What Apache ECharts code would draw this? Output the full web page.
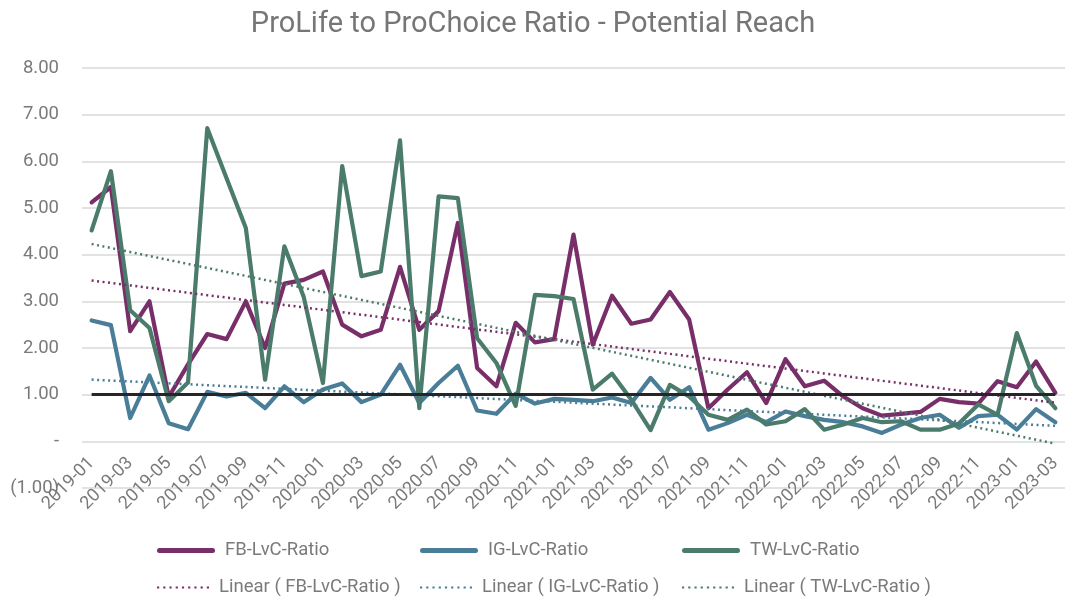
<!DOCTYPE html>
<html>
<head>
<meta charset="utf-8">
<script src="https://cdn.jsdelivr.net/npm/echarts@6/dist/echarts.min.js"></script>
<style>
  html, body { margin: 0; padding: 0; background: #ffffff; }
  #chart { width: 1066px; height: 598px; }
</style>
</head>
<body>
<div id="chart"></div>
<script>
// ---- data ----
const categories = [
  '2019-01','2019-02','2019-03','2019-04','2019-05','2019-06','2019-07','2019-08','2019-09','2019-10','2019-11','2019-12',
  '2020-01','2020-02','2020-03','2020-04','2020-05','2020-06','2020-07','2020-08','2020-09','2020-10','2020-11','2020-12',
  '2021-01','2021-02','2021-03','2021-04','2021-05','2021-06','2021-07','2021-08','2021-09','2021-10','2021-11','2021-12',
  '2022-01','2022-02','2022-03','2022-04','2022-05','2022-06','2022-07','2022-08','2022-09','2022-10','2022-11','2022-12',
  '2023-01','2023-02','2023-03'
];
const fbRatio = [
  5.12, 5.45, 2.36, 3.00, 0.95, 1.65, 2.30, 2.19, 3.00, 2.00, 3.38, 3.46,
  3.64, 2.50, 2.25, 2.39, 3.74, 2.39, 2.79, 4.68, 1.57, 1.18, 2.54, 2.12,
  2.19, 4.43, 2.07, 3.12, 2.52, 2.61, 3.20, 2.61, 0.71, 1.11, 1.48, 0.82,
  1.76, 1.18, 1.30, 0.96, 0.71, 0.55, 0.59, 0.63, 0.91, 0.84, 0.81, 1.29,
  1.16, 1.71, 1.04
];
const igRatio = [
  2.59, 2.49, 0.50, 1.41, 0.39, 0.26, 1.06, 0.96, 1.04, 0.71, 1.18, 0.84,
  1.11, 1.24, 0.84, 1.00, 1.64, 0.82, 1.25, 1.62, 0.66, 0.59, 1.02, 0.81,
  0.91, 0.89, 0.86, 0.94, 0.82, 1.36, 0.89, 1.16, 0.25, 0.39, 0.57, 0.41,
  0.64, 0.54, 0.46, 0.41, 0.32, 0.18, 0.36, 0.50, 0.57, 0.29, 0.54, 0.57,
  0.25, 0.69, 0.41
];
const twRatio = [
  4.52, 5.79, 2.81, 2.43, 0.86, 1.26, 6.71, 5.64, 4.57, 1.32, 4.18, 3.10,
  1.25, 5.90, 3.54, 3.64, 6.45, 0.71, 5.25, 5.21, 2.21, 1.68, 0.76, 3.14,
  3.11, 3.05, 1.11, 1.45, 0.89, 0.24, 1.21, 0.96, 0.57, 0.46, 0.68, 0.36,
  0.43, 0.69, 0.25, 0.36, 0.50, 0.41, 0.43, 0.25, 0.25, 0.38, 0.79, 0.57,
  2.32, 1.19, 0.71
];
const seriesNames = ['FB-LvC-Ratio', 'IG-LvC-Ratio', 'TW-LvC-Ratio'];
const referenceValue = 1;
const yTicks = { min: -1, max: 8, interval: 1 };

// ---- linear trend (least squares, like a spreadsheet trendline) ----
function linearTrend(values) {
  const n = values.length;
  let sx = 0, sy = 0, sxx = 0, sxy = 0;
  values.forEach((v, i) => { sx += i; sy += v; sxx += i * i; sxy += i * v; });
  const b = (n * sxy - sx * sy) / (n * sxx - sx * sx);
  const a = (sy - b * sx) / n;
  return values.map((v, i) => +(a + b * i).toFixed(4));
}

const colors = ['#782f69', '#4a7d97', '#4a7b6b'];
const valuesList = [fbRatio, igRatio, twRatio];
const FONT = 'Roboto, "Noto Sans", sans-serif';
const TEXT_COLOR = '#7a7a7a';

const GRID_TOP = 68, GRID_BOTTOM = 110, CHART_H = 598;
const unitPx = (CHART_H - GRID_TOP - GRID_BOTTOM) / (yTicks.max - yTicks.min);

const series = [];
valuesList.forEach((vals, k) => {
  series.push({
    name: seriesNames[k],
    type: 'line',
    data: vals,
    symbol: 'none',
    z: 2 + k * 0.1,
    lineStyle: { color: colors[k], width: 4.2, join: 'round', cap: 'round' },
    itemStyle: { color: colors[k] },
    emphasis: { disabled: true },
    markLine: k === 2 ? {
      silent: true,
      symbol: 'none',
      label: { show: false },
      lineStyle: { color: '#262626', width: 3, type: 'solid' },
      data: [[
        { coord: [categories[0], referenceValue] },
        { coord: [categories[categories.length - 1], referenceValue] }
      ]]
    } : undefined
  });
});
valuesList.forEach((vals, k) => {
  series.push({
    name: 'Linear ( ' + seriesNames[k] + ' )',
    type: 'line',
    data: linearTrend(vals),
    symbol: 'none',
    z: 3,
    lineStyle: { color: colors[k], width: 2.5, type: [2, 3.5] },
    itemStyle: { color: colors[k] },
    emphasis: { disabled: true }
  });
});

function fmtY(v) {
  if (v === 0) return '-';
  if (v < 0) return '(' + Math.abs(v).toFixed(2) + ')';
  return v.toFixed(2);
}

// legend icons
const solidIcon = 'path://M2.5,0 H55.5 A2.5,2.5 0 0 1 55.5,5 H2.5 A2.5,2.5 0 0 1 2.5,0 Z';
let dotPath = 'path://';
for (let j = 0; j < 9; j++) {
  const x0 = (j * 6.25).toFixed(2);
  dotPath += 'M' + x0 + ',0 h2.2 v2.2 h-2.2 z ';
}

const colX = [157, 420, 682];
const legends = [];
seriesNames.forEach((nm, k) => {
  legends.push({
    data: [{ name: nm, icon: solidIcon }], left: colX[k], top: 541, itemWidth: 58, itemHeight: 5,
    symbolKeepAspect: false,
    padding: [0, 0, 0, 0],
    textStyle: { fontFamily: FONT, fontSize: 18.5, color: TEXT_COLOR, padding: [0, 0, 0, 5] },
    selectedMode: false
  });
  legends.push({
    data: [{ name: 'Linear ( ' + nm + ' )', icon: dotPath }], left: colX[k], top: 578, itemWidth: 52, itemHeight: 2.2,
    symbolKeepAspect: false,
    padding: [0, 0, 0, 0],
    textStyle: { fontFamily: FONT, fontSize: 18.5, color: TEXT_COLOR, padding: [0, 0, 0, 5] },
    selectedMode: false
  });
});

const chart = echarts.init(document.getElementById('chart'), null, { renderer: 'canvas' });
chart.setOption({
  backgroundColor: '#ffffff',
  animation: false,
  title: {
    text: 'ProLife to ProChoice Ratio - Potential Reach',
    left: 'center', top: 5,
    textStyle: { fontFamily: FONT, fontSize: 29, fontWeight: 'normal', color: '#767676' }
  },
  legend: legends,
  grid: { left: 82, right: 1, top: GRID_TOP, bottom: GRID_BOTTOM, containLabel: false },
  xAxis: {
    type: 'category',
    data: categories,
    boundaryGap: true,
    offset: -unitPx * (0 - yTicks.min),
    axisLine: { show: false, onZero: false },
    axisTick: { show: false },
    axisLabel: {
      interval: 1, rotate: 45, margin: 19,
      fontFamily: FONT, fontSize: 18, color: TEXT_COLOR
    },
    splitLine: { show: false }
  },
  yAxis: {
    type: 'value',
    min: yTicks.min, max: yTicks.max, interval: yTicks.interval,
    axisLine: { show: false },
    axisTick: { show: false },
    axisLabel: { formatter: fmtY, margin: 23, fontFamily: FONT, fontSize: 18.5, color: TEXT_COLOR },
    splitLine: { lineStyle: { color: '#d9d9d9', width: 1.5 } }
  },
  series: series
});
</script>
</body>
</html>
